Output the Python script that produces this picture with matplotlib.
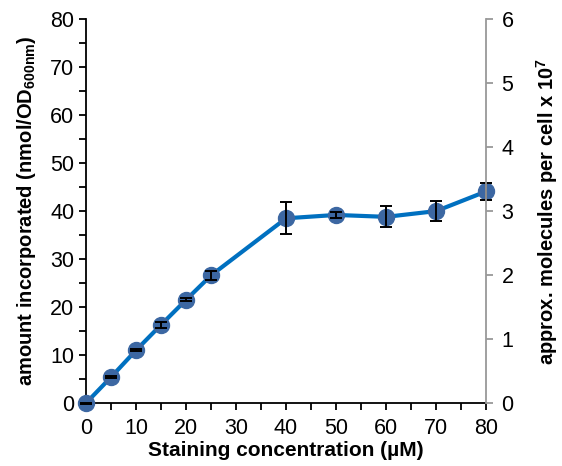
import numpy as np
import matplotlib
matplotlib.use('Agg')
import matplotlib.pyplot as plt
from matplotlib.ticker import MultipleLocator

plt.rcParams['font.family'] = 'Liberation Sans'
plt.rcParams['mathtext.fontset'] = 'custom'
plt.rcParams['mathtext.rm'] = 'Liberation Sans:bold'
plt.rcParams['mathtext.bf'] = 'Liberation Sans:bold'

conc = [0, 5, 10, 15, 20, 25, 40, 50, 60, 70, 80]
amount = [0, 5.4, 11.0, 16.3, 21.5, 26.6, 38.5, 39.2, 38.8, 40.0, 44.1]
err = [0.1, 0.2, 0.2, 0.6, 0.3, 0.9, 3.3, 0.6, 2.2, 2.0, 1.7]

fig = plt.figure(figsize=(5.62, 4.66), dpi=100)
ax = fig.add_axes([0.153, 0.135, 0.712, 0.824])

ax.plot(conc, amount, color='#0070C0', lw=3, zorder=2, clip_on=False)
ax.plot(conc, amount, 'o', color='#3C67A2', ms=11.5, zorder=3, clip_on=False)
eb = ax.errorbar(conc, amount, yerr=err, fmt='none', ecolor='black', elinewidth=1.4,
                 capsize=4.5, capthick=1.4, zorder=4)
for art in eb.lines[1] + eb.lines[2]:
    art.set_clip_on(False)

ax.set_xlim(0, 80)
ax.set_ylim(0, 80)
ax.xaxis.set_major_locator(MultipleLocator(10))
ax.xaxis.set_minor_locator(MultipleLocator(5))
ax.yaxis.set_major_locator(MultipleLocator(10))
ax.yaxis.set_minor_locator(MultipleLocator(5))
ax.tick_params(which='both', direction='out', width=1.3, length=5, labelsize=15.5)
ax.tick_params(axis='x', pad=6)
ax.spines['top'].set_visible(False)
ax.spines['right'].set_visible(False)
ax.spines['left'].set_linewidth(1.3)
ax.spines['bottom'].set_linewidth(1.3)

ax.set_xlabel('Staining concentration (µM)', fontsize=15, fontweight='bold', labelpad=1)
ax.set_ylabel('amount incorporated (nmol/OD$_{\\mathbf{600nm}}$)', fontsize=14.5,
              fontweight='bold', labelpad=9)

ax2 = ax.twinx()
ax2.set_ylim(0, 6)
ax2.yaxis.set_major_locator(MultipleLocator(1))
ax2.spines['top'].set_visible(False)
ax2.spines['left'].set_visible(False)
ax2.spines['bottom'].set_visible(False)
ax2.spines['right'].set_color('#999999')
ax2.spines['right'].set_linewidth(1.3)
ax2.tick_params(direction='out', length=5, width=1.3, color='#999999', labelsize=15.5, pad=6)
ax2.set_ylabel('approx. molecules per cell x 10$^{\\mathbf{7}}$', fontsize=14.5,
               fontweight='bold', labelpad=15)

fig.savefig('out.png', dpi=100)
